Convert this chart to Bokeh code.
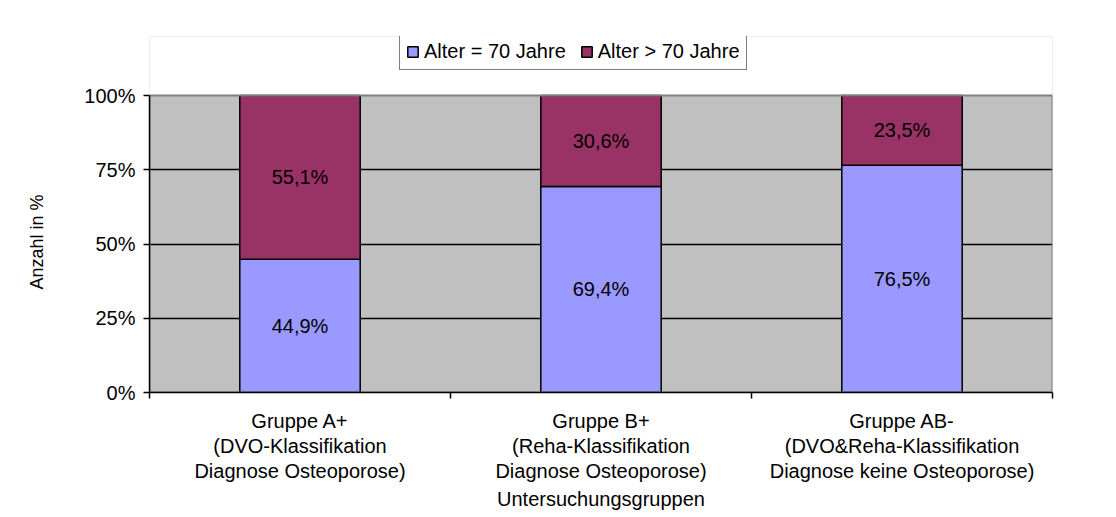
from bokeh.plotting import figure
from bokeh.models import (ColumnDataSource, Legend, LegendItem, FixedTicker,
                          PrintfTickFormatter, Range1d)
from bokeh.core.properties import value
from bokeh.embed import file_html
from bokeh.resources import INLINE

groups = ["Gruppe A+\n(DVO-Klassifikation\nDiagnose Osteoporose)",
          "Gruppe B+\n(Reha-Klassifikation\nDiagnose Osteoporose)",
          "Gruppe AB-\n(DVO&Reha-Klassifikation\nDiagnose keine Osteoporose)"]
alter_le70 = [44.9, 69.4, 76.5]
alter_gt70 = [55.1, 30.6, 23.5]
series_names = ["Alter = 70 Jahre", "Alter > 70 Jahre"]
y_ticks = [0, 25, 50, 75, 100]
y_title = "Anzahl in %"
x_title = "Untersuchungsgruppen"

FONT = "Liberation Sans"
FS = "20px"
pos = [i + 0.5 for i in range(len(groups))]
n = len(groups)
ymax = y_ticks[-1]

# frame: top 36 px, bottom at 392 px; 0..100 spans ~297 px
H, TOP, BOTTOM = 517, 36, 392
y_end = ymax * (BOTTOM - TOP) / 297.0

def fmt(v):
    return f"{v:.1f}%".replace(".", ",")

src = ColumnDataSource(dict(x=pos, a=alter_le70, b=alter_gt70))

p = figure(width=1116, height=H, output_backend="svg", toolbar_location=None,
           x_range=Range1d(0, n), y_range=Range1d(0, y_end),
           min_border_left=149, min_border_right=64, min_border_top=TOP,
           min_border_bottom=H - BOTTOM)
p.background_fill_color = "#C0C0C0"
p.border_fill_color = "white"
p.outline_line_color = None

# white area above the plot area (legend region), oversized so no grey edge shows
p.quad(left=[-1], right=[n + 1], bottom=[ymax], top=[y_end + 10],
       fill_color="white", line_color=None)

rs = p.vbar_stack(["a", "b"], x="x", width=0.4, source=src,
                  color=["#9999FF", "#993366"],
                  line_color="black", line_width=1.5)

# plot area border (grey, like Excel)
p.quad(left=[0], right=[n], bottom=[0], top=[ymax],
       fill_color=None, line_color="#808080", line_width=2)

# value labels
lab_src = ColumnDataSource(dict(
    x=pos + pos,
    y=[a / 2 for a in alter_le70] + [a + b / 2 for a, b in zip(alter_le70, alter_gt70)],
    t=[fmt(v) for v in alter_le70] + [fmt(v) for v in alter_gt70],
))
p.text(x="x", y="y", text="t", source=lab_src, text_align="center",
       text_baseline="middle", text_font=value(FONT), text_font_size="20px",
       text_color="black")

# grid
p.xgrid.visible = False
p.ygrid.ticker = FixedTicker(ticks=y_ticks[1:-1])
p.ygrid.grid_line_color = "black"
p.ygrid.grid_line_width = 1.5
p.ygrid.grid_line_alpha = 1

# y axis
ya = p.yaxis[0]
ya.bounds = (0, ymax)
ya.ticker = FixedTicker(ticks=y_ticks)
ya.formatter = PrintfTickFormatter(format="%d%%")
ya.major_tick_in = 0
ya.major_tick_out = 6
ya.minor_tick_line_color = None
ya.axis_line_color = "black"
ya.axis_line_width = 1.5
ya.major_tick_line_width = 1.5
ya.major_label_text_font = FONT
ya.major_label_text_font_size = FS
ya.major_label_text_color = "black"
ya.major_label_standoff = 8
# trailing no-break spaces shift the rotated title down to the centre of 0..100%
ya.axis_label = y_title + "\u00a0" * 11
ya.axis_label_text_font = FONT
ya.axis_label_text_font_size = "18px"
ya.axis_label_text_font_style = "normal"
ya.axis_label_text_color = "black"
ya.axis_label_standoff = 34

# x axis
xa = p.xaxis[0]
xa.ticker = FixedTicker(ticks=pos, minor_ticks=list(range(n + 1)))
xa.major_label_overrides = {v: g for v, g in zip(pos, groups)}
xa.major_tick_line_color = None
xa.minor_tick_in = 0
xa.minor_tick_out = 6
xa.minor_tick_line_color = "black"
xa.minor_tick_line_width = 1.5
xa.axis_line_color = "black"
xa.axis_line_width = 1.5
xa.major_label_text_font = FONT
xa.major_label_text_font_size = FS
xa.major_label_text_color = "black"
xa.major_label_text_line_height = 1.15
xa.major_label_standoff = 11
xa.axis_label = x_title
xa.axis_label_text_font = FONT
xa.axis_label_text_font_size = FS
xa.axis_label_text_font_style = "normal"
xa.axis_label_text_color = "black"
xa.axis_label_standoff = 3

legend = Legend(items=[LegendItem(label=series_names[0], renderers=[rs[0]]),
                       LegendItem(label=series_names[1], renderers=[rs[1]])],
                orientation="horizontal", location=(250, BOTTOM - 70),
                border_line_color="black", border_line_width=1.5,
                background_fill_color="white", background_fill_alpha=1,
                label_text_font=FONT, label_text_font_size=FS,
                label_height=17, label_text_color="black",
                glyph_width=13, glyph_height=13, label_standoff=5,
                spacing=14, padding=6, margin=0)
p.add_layout(legend, "center")

open("out.html", "w").write(file_html(p, INLINE))
